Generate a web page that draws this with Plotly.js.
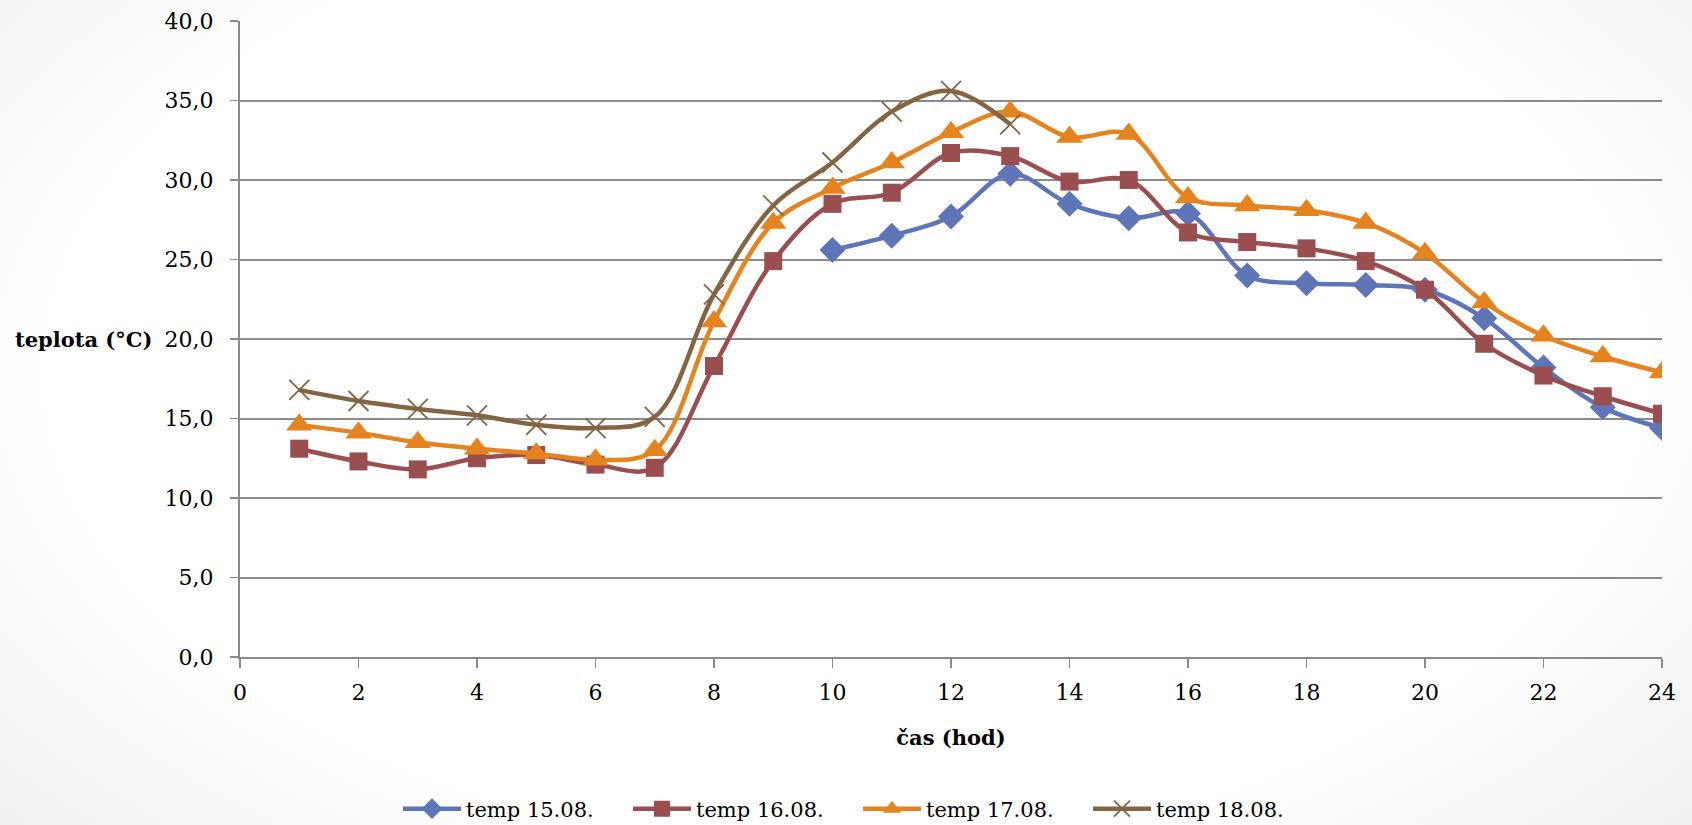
<!DOCTYPE html>
<html>
<head>
<meta charset="utf-8">
<script src="https://cdn.plot.ly/plotly-3.0.1.min.js"></script>
<style>
  html, body { margin: 0; padding: 0; width: 1692px; height: 825px; overflow: hidden; }
  body { background: radial-gradient(ellipse 78% 95% at 50% 45%, #ffffff 60%, #e9e9e9 100%); }
  #chart { width: 1692px; height: 825px; }
</style>
</head>
<body>
<div id="chart"></div>
<script>
const hours = [1,2,3,4,5,6,7,8,9,10,11,12,13,14,15,16,17,18,19,20,21,22,23,24];
const temp1508 = [null,null,null,null,null,null,null,null,null,25.6,26.5,27.7,30.4,28.5,27.6,27.9,24.0,23.5,23.4,23.1,21.3,18.2,15.7,14.4];
const temp1608 = [13.1,12.3,11.8,12.5,12.7,12.1,11.9,18.3,24.9,28.5,29.2,31.7,31.5,29.9,30.0,26.7,26.1,25.7,24.9,23.1,19.7,17.7,16.4,15.3];
const temp1708 = [14.6,14.1,13.5,13.1,12.8,12.4,13.0,21.1,27.3,29.5,31.1,33.0,34.3,32.7,32.9,28.9,28.4,28.1,27.3,25.4,22.3,20.2,18.9,17.9];
const temp1808 = [16.8,16.1,15.6,15.2,14.6,14.4,15.1,22.8,28.4,31.1,34.3,35.6,33.5,null,null,null,null,null,null,null,null,null,null,null];
const seriesNames = ['temp 15.08.','temp 16.08.','temp 17.08.','temp 18.08.'];
const xTicks = [0,2,4,6,8,10,12,14,16,18,20,22,24];
const yTicks = [0,5,10,15,20,25,30,35,40];

const FONT = 'DejaVu Serif';
const colors = ['#5E75B7','#9A4E50','#E5831F','#836543'];

const traces = [
  {x: hours, y: temp1508, name: seriesNames[0], mode: 'lines+markers',
   line: {color: colors[0], width: 4.5, shape: 'spline', smoothing: 1},
   marker: {symbol: 'diamond', size: 20, color: colors[0]}},
  {x: hours, y: temp1608, name: seriesNames[1], mode: 'lines+markers',
   line: {color: colors[1], width: 4.5, shape: 'spline', smoothing: 1},
   marker: {symbol: 'square', size: 18, color: colors[1]}},
  {x: hours, y: temp1708, name: seriesNames[2], mode: 'lines+markers',
   line: {color: colors[2], width: 4.5, shape: 'spline', smoothing: 1},
   marker: {symbol: 'triangle-up', size: 23, color: colors[2]}},
  {x: hours, y: temp1808, name: seriesNames[3], mode: 'lines+markers',
   line: {color: colors[3], width: 4.5, shape: 'spline', smoothing: 1},
   marker: {symbol: 'x-thin', size: 20, color: colors[3], line: {color: colors[3], width: 1.8}}}
];

const layout = {
  width: 1692, height: 825,
  paper_bgcolor: 'rgba(0,0,0,0)',
  plot_bgcolor: 'rgba(0,0,0,0)',
  separators: ',.',
  font: {family: FONT, size: 21, color: '#000'},
  margin: {l: 240, r: 30, t: 21, b: 168, pad: 0},
  showlegend: true,
  legend: {
    orientation: 'h', xref: 'container', yref: 'container',
    x: 398/1692, xanchor: 'left', y: 16/825, yanchor: 'middle',
    font: {family: FONT, size: 21, color: '#000'},
    bgcolor: 'rgba(0,0,0,0)', itemwidth: 58,
    entrywidth: 157, entrywidthmode: 'pixels'
  },
  xaxis: {
    range: [0, 24], tickvals: xTicks, ticktext: xTicks.map(String),
    automargin: false,
    showgrid: false, zeroline: false,
    showline: true, linecolor: '#8a8a8a', linewidth: 2,
    ticks: 'outside', ticklen: 9, tickwidth: 1.5, tickcolor: '#8a8a8a',
    ticklabelstandoff: 6,
    tickfont: {family: FONT, size: 22, color: '#000'},
    title: {text: '<b>čas (hod)</b>', font: {family: FONT, size: 21, color: '#000'}, standoff: 26}
  },
  yaxis: {
    range: [0, 40], tickvals: yTicks, tickformat: '.1f',
    automargin: false,
    showgrid: true, gridcolor: '#8a8a8a', gridwidth: 2,
    zeroline: false,
    showline: true, linecolor: '#8a8a8a', linewidth: 2,
    ticks: 'outside', ticklen: 8, tickwidth: 1.5, tickcolor: '#8a8a8a',
    ticklabelstandoff: 12,
    tickfont: {family: FONT, size: 22, color: '#000'}
  },
  annotations: [{
    text: '<b>teplota (°C)</b>', xref: 'paper', yref: 'y', x: 0, y: 20,
    xanchor: 'right', yanchor: 'middle', xshift: -86, showarrow: false,
    font: {family: FONT, size: 21, color: '#000'}
  }]
};

Plotly.newPlot('chart', traces, layout, {displayModeBar: false, staticPlot: true});
</script>
</body>
</html>
